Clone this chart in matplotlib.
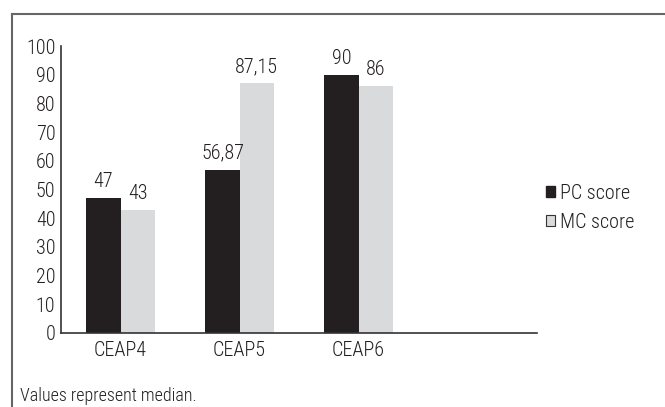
import matplotlib
matplotlib.use("Agg")
import matplotlib.pyplot as plt
from matplotlib import font_manager as fm
from matplotlib.patches import Patch
from matplotlib.lines import Line2D
import numpy as np

# pick a condensed sans face that is installed
names = set(f.name for f in fm.fontManager.ttflist)
wanted = ["Roboto Condensed", "Liberation Sans Narrow", "Pragati Narrow", "Archivo Narrow", "PT Sans Narrow"]
font = [n for n in wanted if n in names][:1]
plt.rcParams['font.family'] = font + ['DejaVu Sans']
plt.rcParams['font.weight'] = 'light'

categories = ["CEAP4", "CEAP5", "CEAP6"]
pc_score = [47, 56.87, 90]
mc_score = [43, 87.15, 86]
pc_labels = ["47", "56,87", "90"]
mc_labels = ["43", "87,15", "86"]
yticks = list(range(0, 101, 10))

dark = "#231f20"
light = "#d9dadc"
text_col = "#231f20"
fs = 14.5

fig = plt.figure(figsize=(6.65, 4.07), dpi=100)
ax = fig.add_axes([61/665, 1 - 333/407, 476/665, 287/407])

x = np.arange(len(categories))
w = 0.286
b1 = ax.bar(x - w/2, pc_score, w, color=dark)
b2 = ax.bar(x + w/2, mc_score, w, color=light)

for bars, labs in [(b1, pc_labels), (b2, mc_labels)]:
    for bar, lab in zip(bars, labs):
        ax.annotate(lab, (bar.get_x() + bar.get_width()/2, bar.get_height()),
                    xytext=(0, 5), textcoords="offset points",
                    ha="center", va="bottom", fontsize=fs, color=text_col)

ax.set_xlim(-0.5, 3.5)
ax.set_ylim(0, 100)
ax.set_yticks(yticks)
ax.set_xticks(x)
ax.set_xticklabels(categories)
ax.tick_params(axis="both", length=0, labelsize=fs, colors=text_col)
ax.tick_params(axis="y", pad=4)
ax.tick_params(axis="x", pad=6)
for s in ["top", "right"]:
    ax.spines[s].set_visible(False)
for s in ["left", "bottom"]:
    ax.spines[s].set_color("#333333")
    ax.spines[s].set_linewidth(1.2)

handles = [Patch(facecolor=dark, edgecolor=dark, label="PC score"),
           Patch(facecolor=light, edgecolor="#333333", linewidth=0.8, label="MC score")]
fig.legend(handles=handles, loc="center left", bbox_to_anchor=(546/665, 1 - 208/407),
           frameon=False, fontsize=fs, handlelength=0.45, handleheight=0.45, borderpad=0,
           borderaxespad=0, handletextpad=0.25, labelspacing=0.5, labelcolor=text_col)

# outer frame (only top and left visible)
fig.add_artist(Line2D([12/665, 1], [1 - 14/407, 1 - 14/407], color="#666666", lw=1.5))
fig.add_artist(Line2D([12/665, 12/665], [0, 1 - 14/407], color="#666666", lw=1.5))

fig.text(20/665, 1 - 396/407, "Values represent median.", fontsize=13,
         color=text_col, va="center", ha="left")

fig.savefig("out.png", dpi=100)
